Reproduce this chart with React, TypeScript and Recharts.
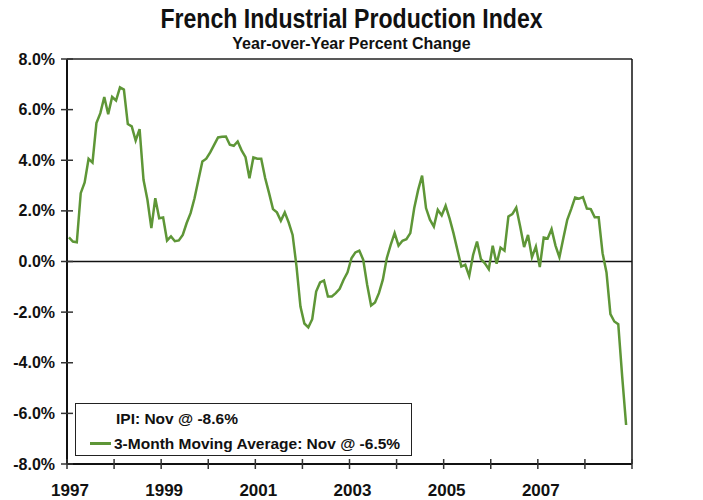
import React from "react";
import {
  LineChart,
  Line,
  XAxis,
  YAxis,
  ReferenceLine,
  Legend,
} from "recharts";

// Year-over-year % change, 3-month moving average, Jan 1997 .. Nov 2008
const ma1997 = [0.95, 0.79, 0.76, 2.7, 3.12, 4.06, 3.91, 5.47, 5.86, 6.5, 5.82, 6.5];
const ma1998 = [6.36, 6.88, 6.79, 5.43, 5.34, 4.78, 5.23, 3.23, 2.44, 1.32, 2.5, 1.71];
const ma1999 = [1.74, 0.83, 0.99, 0.8, 0.83, 1.05, 1.52, 1.91, 2.5, 3.23, 3.95, 4.06];
const ma2000 = [4.31, 4.61, 4.9, 4.93, 4.94, 4.61, 4.57, 4.74, 4.39, 4.12, 3.29, 4.11];
const ma2001 = [4.06, 4.06, 3.3, 2.7, 2.07, 1.94, 1.61, 1.94, 1.54, 1.05, -0.2, -1.78];
const ma2002 = [-2.45, -2.6, -2.28, -1.19, -0.83, -0.75, -1.38, -1.38, -1.25, -1.08, -0.72, -0.43];
const ma2003 = [0.13, 0.36, 0.43, 0.07, -0.92, -1.74, -1.62, -1.25, -0.72, 0.13, 0.66, 1.12];
const ma2004 = [0.63, 0.82, 0.88, 1.12, 2.11, 2.83, 3.39, 2.11, 1.65, 1.38, 2.04, 1.82];
const ma2005 = [2.2, 1.7, 1.12, 0.46, -0.2, -0.13, -0.57, 0.26, 0.79, 0.09, -0.07, -0.3];
const ma2006 = [0.62, -0.09, 0.55, 0.43, 1.78, 1.87, 2.13, 1.38, 0.57, 1.05, 0.17, 0.59];
const ma2007 = [-0.22, 0.95, 0.91, 1.28, 0.63, 0.17, 0.92, 1.65, 2.07, 2.53, 2.48, 2.54];
const ma2008 = [2.09, 2.07, 1.75, 1.75, 0.33, -0.43, -2.08, -2.37, -2.48, -4.55, -6.46];

const startYear = 1997;
const yearTicks = [0, 12, 24, 36, 48, 60, 72, 84, 96, 108, 120, 132, 144];
const yTicks = [-8, -6, -4, -2, 0, 2, 4, 6, 8];

const legendItems = [
  { label: "IPI: Nov @ -8.6%", marker: false },
  { label: "3-Month Moving Average: Nov @ -6.5%", marker: true },
];

const GREEN = "#5e9637";
const FONT = "'Liberation Sans', Arial, sans-serif";

const movingAvg = [
  ...ma1997, ...ma1998, ...ma1999, ...ma2000, ...ma2001, ...ma2002,
  ...ma2003, ...ma2004, ...ma2005, ...ma2006, ...ma2007, ...ma2008,
];

const data = movingAvg.map((v, i) => ({ m: i + 0.5, ma: v }));

const pct = (v: number) => `${v.toFixed(1)}%`;

function LeftTick(props: any) {
  const { x, y, payload } = props;
  const ax = x + 12;
  return (
    <g>
      <line x1={ax - 6} x2={ax + 6} y1={y} y2={y} stroke="#333" strokeWidth={1.5} />
      <text x={ax - 12} y={y} dy={5.5} textAnchor="end" fontFamily={FONT}
        fontWeight="bold" fontSize={16} fill="#111">
        {pct(payload.value)}
      </text>
    </g>
  );
}

function RightTick(props: any) {
  const { x, y, payload } = props;
  const ax = x - 12;
  return (
    <g>
      <line x1={ax - 6} x2={ax + 6} y1={y} y2={y} stroke="#333" strokeWidth={1.5} />
      <text x={ax + 13} y={y} dy={5.5} textAnchor="start" fontFamily={FONT}
        fontWeight="bold" fontSize={16} fill="#111">
        {pct(payload.value)}
      </text>
    </g>
  );
}

function BottomTick(props: any) {
  const { x, y, payload } = props;
  const ay = y - 20;
  const yr = payload.value / 12;
  const show = yr % 2 === 0 && payload.value < 144;
  return (
    <g>
      <line x1={x} x2={x} y1={ay - 5} y2={ay + 5} stroke="#333" strokeWidth={1.5} />
      {show && (
        <text x={x + 3} y={ay + 32} textAnchor="middle" fontFamily={FONT}
          fontWeight="bold" fontSize={17} fill="#111">
          {startYear + yr}
        </text>
      )}
    </g>
  );
}

function LegendBox() {
  return (
    <div
      style={{
        width: 337,
        height: 53,
        border: "1px solid #222",
        background: "#fff",
        boxSizing: "border-box",
        fontFamily: FONT,
        fontWeight: "bold",
        fontSize: 15.5,
        color: "#111",
        paddingTop: 2,
      }}
    >
      {legendItems.map((it) => (
        <div key={it.label} style={{ display: "flex", alignItems: "center", height: 25 }}>
          <span
            style={{
              display: "inline-block",
              width: 21,
              height: 3,
              marginLeft: 14,
              marginRight: 3,
              background: it.marker ? GREEN : "transparent",
            }}
          />
          <span style={{ marginLeft: it.marker ? 0 : 2 }}>{it.label}</span>
        </div>
      ))}
    </div>
  );
}

export default function App() {
  return (
    <div style={{ position: "absolute", left: 0, top: 0, width: 703, height: 500, background: "#fff" }}>
      <div
        style={{
          position: "absolute",
          left: 0,
          width: 703,
          top: 4,
          textAlign: "center",
          fontFamily: FONT,
          fontWeight: "bold",
          fontSize: 27,
          color: "#111",
          lineHeight: "30px",
          transform: "scaleX(0.855)",
        }}
      >
        French Industrial Production Index
      </div>
      <div
        style={{
          position: "absolute",
          left: 0,
          width: 703,
          top: 35,
          textAlign: "center",
          fontFamily: FONT,
          fontWeight: "bold",
          fontSize: 16,
          color: "#111",
          lineHeight: "18px",
        }}
      >
        Year-over-Year Percent Change
      </div>
      <LineChart
        width={703}
        height={500}
        data={data}
        margin={{ top: 59, right: 0, bottom: 0, left: 0 }}
      >
        <XAxis
          dataKey="m"
          type="number"
          domain={[0, 144]}
          ticks={yearTicks}
          interval={0}
          height={36}
          tickSize={6}
          tickMargin={14}
          tickLine={false}
          axisLine={{ stroke: "#111", strokeWidth: 2 }}
          tick={<BottomTick />}
        />
        <YAxis
          yAxisId="left"
          orientation="left"
          domain={[-8, 8]}
          ticks={yTicks}
          interval={0}
          width={67}
          tickSize={6}
          tickMargin={6}
          tickLine={false}
          axisLine={{ stroke: "#111", strokeWidth: 2 }}
          tick={<LeftTick />}
        />
        <YAxis
          yAxisId="right"
          orientation="right"
          domain={[-8, 8]}
          ticks={yTicks}
          interval={0}
          width={71}
          tickSize={6}
          tickMargin={6}
          tickLine={false}
          axisLine={{ stroke: "#111", strokeWidth: 1.5 }}
          tick={<RightTick />}
        />
        <ReferenceLine yAxisId="left" y={8} stroke="#222" strokeWidth={1.5} />
        <ReferenceLine yAxisId="left" y={0} stroke="#111" strokeWidth={1.5} />
        <Line
          yAxisId="left"
          type="linear"
          dataKey="ma"
          name="3-Month Moving Average: Nov @ -6.5%"
          stroke={GREEN}
          strokeWidth={2.5}
          dot={false}
          isAnimationActive={false}
        />
        <Legend
          layout="horizontal"
          verticalAlign="middle"
          align="center"
          content={<LegendBox />}
          wrapperStyle={{ position: "absolute", left: 75, top: 403, width: 337, height: 53 }}
        />
      </LineChart>
    </div>
  );
}
